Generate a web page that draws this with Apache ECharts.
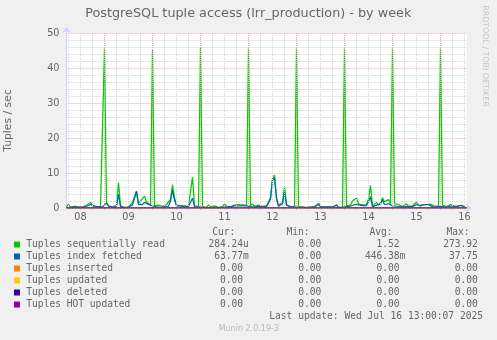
<!DOCTYPE html>
<html><head><meta charset="utf-8">
<script src="https://cdn.jsdelivr.net/npm/echarts@6.0.0/dist/echarts.min.js"></script>
<style>html,body{margin:0;padding:0;background:#f0f0f0;}#c{width:497px;height:340px;}</style>
</head><body><div id="c"></div>
<script>
// ---- data (hourly samples, hour 0 = Jul 08 00:00) ----
const startHour = 5;     // first sample: Jul 08 05:00
const endHour = 205;     // Jul 16 13:00
const dayLabels = ['08','09','10','11','12','13','14','15','16'];

const seqRead = [
  0.4,1.0,0.3,0.2,0.5,0.4,0.3,0.5,0.3,0.4,0.8,0.9,1.6,0.8,0.5,0.4,0.7,0.3,0.5,
  45.6,
  1.6,0.6,0.8,0.3,0.4,0.8,7.2,0.6,0.3,0.2,0.4,0.3,0.8,1.6,1.8,4.9,1.2,2.0,1.5,3.4,1.8,1.5,0.8,
  45.3,
  0.7,0.4,0.8,0.3,0.5,0.6,1.0,0.8,2.5,6.6,3.0,0.8,1.0,0.7,1.0,0.6,0.8,0.5,1.0,8.8,0.6,0.3,0.5,
  45.9,
  0.4,0.3,0.2,0.9,0.3,0.2,0.6,0.3,0.2,0.3,0.4,1.2,0.5,0.3,0.4,0.7,0.8,0.5,1.0,1.5,0.9,0.6,0.8,
  45.6,
  0.6,1.2,0.5,0.4,0.8,1.2,0.5,1.0,0.6,1.0,3.0,8.3,9.4,3.0,0.8,0.5,1.5,6.1,1.0,0.6,0.4,0.5,0.4,
  45.6,
  0.4,0.2,0.3,0.2,0.2,0.1,0.3,0.2,0.4,0.6,1.4,0.5,0.2,0.3,0.2,0.4,0.5,0.3,0.2,0.9,0.2,0.5,0.3,
  45.6,
  0.6,1.1,0.8,2.0,1.5,2.8,1.2,1.6,0.9,1.1,1.0,2.5,6.4,0.6,0.8,1.6,0.8,1.5,2.9,1.8,1.3,2.4,1.2,
  45.6,
  1.2,0.8,1.0,0.5,0.4,0.8,1.2,0.5,0.4,0.6,0.8,1.7,0.7,0.8,0.9,1.2,1.0,1.2,1.1,0.6,0.5,0.4,0.6,
  45.6,
  0.8,0.5,0.4,0.6,1.0,1.0,0.5,0.4,0.6,1.0,0.7,0.3,0.0003
];
const idxFetched = [
  0.2,0.6,0.1,0.1,0.4,0.3,0.2,0.3,0.2,0.3,0.5,0.6,1.0,0.5,0.3,0.3,0.4,0.2,0.3,
  0.6,
  1.4,0.5,0.6,0.2,0.3,0.5,3.9,0.4,0.2,0.1,0.3,0.2,0.5,0.9,1.0,4.7,1.0,1.2,1.0,1.6,1.2,1.0,0.6,
  0.6,
  0.5,0.3,0.5,0.2,0.4,0.4,0.6,0.5,2.0,5.1,2.3,0.6,0.5,0.5,0.6,0.4,0.5,0.4,0.6,2.8,0.4,0.2,0.3,
  0.5,
  0.2,0.1,0.1,0.3,0.1,0.1,0.2,0.1,0.1,0.2,0.2,0.5,0.3,0.2,0.3,0.5,0.6,0.4,0.6,0.8,0.6,0.4,0.6,
  0.5,
  0.4,0.5,0.3,0.3,0.5,0.6,0.4,0.6,0.4,0.6,2.5,8.0,8.6,2.5,0.5,0.3,1.2,4.7,0.8,0.4,0.3,0.3,0.3,
  0.5,
  0.2,0.1,0.2,0.1,0.1,0.1,0.2,0.1,0.3,0.5,1.0,0.4,0.1,0.2,0.1,0.3,0.4,0.2,0.1,0.8,0.1,0.4,0.2,
  0.5,
  0.4,0.5,0.5,1.0,1.0,1.5,0.9,1.0,0.7,0.8,0.7,1.8,3.2,0.4,0.5,0.8,0.6,1.2,2.3,1.0,0.9,1.2,0.8,
  0.6,
  0.7,0.5,0.6,0.3,0.3,0.5,0.6,0.4,0.3,0.4,0.6,1.0,0.5,0.6,0.6,1.0,0.8,0.9,0.8,0.4,0.4,0.3,0.4,
  0.5,
  0.5,0.3,0.3,0.4,0.5,0.6,0.4,0.3,0.5,0.8,0.5,0.2,0.06
];
// inserted / updated / deleted / HOT updated: all zero over the week
const zeroVals = [
  0,0,0,0,0,0,0,0,0,0,0,0,0,0,0,0,0,0,0,0,
  0,0,0,0,0,0,0,0,0,0,0,0,0,0,0,0,0,0,0,0,
  0,0,0,0,0,0,0,0,0,0,0,0,0,0,0,0,0,0,0,0,
  0,0,0,0,0,0,0,0,0,0,0,0,0,0,0,0,0,0,0,0,
  0,0,0,0,0,0,0,0,0,0,0,0,0,0,0,0,0,0,0,0,
  0,0,0,0,0,0,0,0,0,0,0,0,0,0,0,0,0,0,0,0,
  0,0,0,0,0,0,0,0,0,0,0,0,0,0,0,0,0,0,0,0,
  0,0,0,0,0,0,0,0,0,0,0,0,0,0,0,0,0,0,0,0,
  0,0,0,0,0,0,0,0,0,0,0,0,0,0,0,0,0,0,0,0,
  0,0,0,0,0,0,0,0,0,0,0,0,0,0,0,0,0,0,0,0,
  0
];

const seriesNames = ['Tuples sequentially read','Tuples index fetched','Tuples inserted','Tuples updated','Tuples deleted','Tuples HOT updated'];
const seriesValues = [seqRead, idxFetched, zeroVals, zeroVals, zeroVals, zeroVals];
const curVals = ['284.24u','63.77m','0.00','0.00','0.00','0.00'];
const minVals = ['0.00','0.00','0.00','0.00','0.00','0.00'];
const avgVals = ['1.52','446.38m','0.00','0.00','0.00','0.00'];
const maxVals = ['273.92','37.75','0.00','0.00','0.00','0.00'];
const titleText = 'PostgreSQL tuple access (lrr_production) - by week';
const yTitle = 'Tuples / sec';
const lastUpdate = 'Last update: Wed Jul 16 13:00:07 2025';
const footer = 'Munin 2.0.19-3';
const watermark = 'RRDTOOL / TOBI OETIKER';

// ---- styling ----
const colors = ['#00CC00','#0066B3','#FF8000','#FFCC00','#330099','#990099'];
const FONT = '#666666';
const AXIS = '#cfd6f8';
const MGRID = '#f0a8a8';
const GRID = '#d4d4d4';

const hours = seqRead.map((_, i) => startHour + i);
const noonHours = dayLabels.map((_, i) => 12 + 24 * i);
const midnights = [], sixHours = [];
for (let h = 6; h < endHour; h += 6) { if (h % 24 === 0) midnights.push(h); else sixHours.push(h); }

const gridLines = sixHours.map(h => ({ xAxis: h, lineStyle: { color: GRID, type: [1, 1], width: 1 } }))
  .concat(midnights.map(h => ({ xAxis: h, lineStyle: { color: MGRID, type: [1, 1], width: 1 } })));

const series = [{
  type: 'line', data: [], silent: true, z: 1,
  markLine: { silent: true, symbol: ['none', 'none'], label: { show: false }, animation: false, data: gridLines }
}];
seriesValues.forEach((vals, k) => {
  series.push({
    name: seriesNames[k], type: 'line', z: 2 + k,
    data: vals.map((v, i) => [hours[i], v]),
    showSymbol: false, symbol: 'none',
    lineStyle: { color: colors[k], width: k < 2 ? 1.25 : 1 },
    itemStyle: { color: colors[k] },
    animation: false
  });
});

// legend / texts
const g = [];
function txt(x, y, text, font, fill, align, extra) {
  const o = { type: 'text', x: x, y: y, silent: true, z: 100,
    style: { text: text, font: font, fill: fill, align: align || 'left', verticalAlign: 'middle',
             textAlign: align || 'left', textVerticalAlign: 'middle' } };
  return Object.assign(o, extra || {});
}
const MONO = '9.6px "DejaVu Sans Mono"';
g.push(txt(248.3, 13.7, titleText, '12.8px "DejaVu Sans"', FONT, 'center'));
g.push(txt(485.5, 56, watermark, '7.9px "DejaVu Sans"', '#c4c4c4', 'center', { rotation: -Math.PI / 2 }));
g.push(txt(212.2, 232.3, 'Cur:', MONO, FONT));
g.push(txt(286.5, 232.3, 'Min:', MONO, FONT));
g.push(txt(369.5, 232.3, 'Avg:', MONO, FONT));
g.push(txt(446.5, 232.3, 'Max:', MONO, FONT));
const colRight = [243.1, 321.3, 399.6, 477.9];
function valText(x, y, s) {
  const m = s.match(/^([\d.]+)([a-zA-Z]?)$/);
  g.push(txt(x, y, m[1], MONO, FONT, 'right'));
  if (m[2]) g.push(txt(x, y, m[2], MONO, FONT, 'left'));
}
seriesNames.forEach((name, i) => {
  const y = 244.5 + 12 * i;
  g.push({ type: 'rect', shape: { x: 14, y: y - 3, width: 6, height: 6 }, style: { fill: colors[i] }, silent: true, z: 100 });
  g.push(txt(26.3, y, name, MONO, FONT));
  valText(colRight[0], y, curVals[i]);
  valText(colRight[1], y, minVals[i]);
  valText(colRight[2], y, avgVals[i]);
  valText(colRight[3], y, maxVals[i]);
});
g.push(txt(483, 316.7, lastUpdate, MONO, FONT, 'right'));
g.push(txt(248.8, 329, footer, '8px "DejaVu Sans"', '#bbbbbb', 'center'));

const chart = echarts.init(document.getElementById('c'), null, { renderer: 'canvas' });
chart.setOption({
  animation: false,
  backgroundColor: '#f0f0f0',
  grid: { left: 66.5, top: 33, width: 400, height: 175, show: true, backgroundColor: '#ffffff', borderWidth: 0,
          containLabel: false, outerBoundsMode: 'none' },
  xAxis: [{
    type: 'value', min: startHour, max: endHour, position: 'bottom',
    axisLine: { show: true, onZero: false, lineStyle: { color: AXIS, width: 1 }, symbol: ['none', 'arrow'], symbolSize: [7, 6], symbolOffset: [0, 5] },
    axisTick: { show: true, customValues: sixHours, length: 2, lineStyle: { color: GRID } },
    axisLabel: { show: true, customValues: noonHours, formatter: v => dayLabels[Math.round((v - 12) / 24)],
      color: FONT, fontFamily: 'DejaVu Sans', fontSize: 9.7, margin: 4 },
    splitLine: { show: false }
  }, {
    type: 'value', min: startHour, max: endHour, position: 'bottom',
    axisLine: { show: false },
    axisTick: { show: true, customValues: midnights, length: 2, lineStyle: { color: MGRID } },
    axisLabel: { show: false }, splitLine: { show: false }
  }],
  yAxis: {
    type: 'value', min: 0, max: 50, interval: 10,
    axisLine: { show: true, lineStyle: { color: AXIS, width: 1 }, symbol: ['none', 'arrow'], symbolSize: [7, 6], symbolOffset: [0, 6] },
    axisTick: { show: false },
    axisLabel: { color: FONT, fontFamily: 'DejaVu Sans', fontSize: 9.7, margin: 7 },
    splitLine: { show: true, lineStyle: { color: MGRID, type: [1, 1] } },
    minorTick: { show: false, splitNumber: 5 },
    minorSplitLine: { show: true, lineStyle: { color: GRID, type: [1, 1] } },
    name: yTitle, nameLocation: 'middle', nameGap: 53, nameRotate: 90,
    nameTextStyle: { color: FONT, fontFamily: 'DejaVu Sans', fontSize: 10.8 }
  },
  series: series,
  graphic: { elements: g }
});
</script>
</body></html>
